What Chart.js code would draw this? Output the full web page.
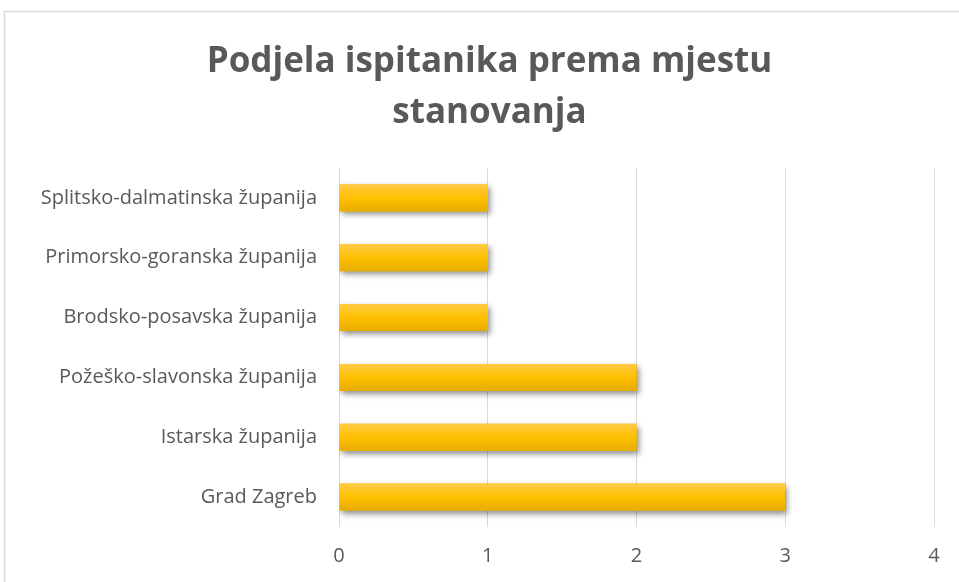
<!DOCTYPE html>
<html>
<head>
<meta charset="utf-8">
<script src="https://cdn.jsdelivr.net/npm/chart.js@4.4.0/dist/chart.umd.min.js"></script>
<style>
  html, body { margin: 0; padding: 0; background: #fff; }
  #wrap { width: 959px; height: 582px; }
</style>
</head>
<body>
<div id="wrap"><canvas id="barchart" width="959" height="582"></canvas></div>
<script>
// Data (top to bottom)
var labels = [
    'Splitsko-dalmatinska županija',
    'Primorsko-goranska županija',
    'Brodsko-posavska županija',
    'Požeško-slavonska županija',
    'Istarska županija',
    'Grad Zagreb'
];
var counts = [1, 1, 1, 2, 2, 3];
var titleLines = ['Podjela ispitanika prema mjestu', 'stanovanja'];
var xMin = 0, xMax = 4, xStep = 1;

var FONT = '"Open Sans", "Noto Sans", sans-serif';
var GREY = '#595959';

// outer frame like the Excel chart border
var framePlugin = {
    id: 'frame',
    beforeDraw: function(chart) {
        var c = chart.ctx;
        c.save();
        c.fillStyle = '#fff';
        c.fillRect(0, 0, chart.width, chart.height);
        c.strokeStyle = '#d9d9d9';
        c.lineWidth = 1.5;
        c.strokeRect(4.5, 11.5, chart.width + 10, chart.height + 10);
        c.restore();
    }
};

// title centred a bit right of the canvas middle, like in Excel
var titlePlugin = {
    id: 'excelTitle',
    afterDraw: function(chart) {
        var c = chart.ctx;
        c.save();
        c.font = 'bold 35px ' + FONT;
        c.fillStyle = GREY;
        c.textAlign = 'center';
        c.textBaseline = 'middle';
        var cx = (20 + chart.width) / 2;
        titleLines.forEach(function(line, i) {
            c.fillText(line, cx, 62 + i * 51);
        });
        c.restore();
    }
};

// drop shadow under bars
var shadowPlugin = {
    id: 'barShadow',
    beforeDatasetsDraw: function(chart) {
        var c = chart.ctx;
        c.save();
        c.shadowColor = 'rgba(0,0,0,0.45)';
        c.shadowBlur = 6;
        c.shadowOffsetX = 2;
        c.shadowOffsetY = 3;
    },
    afterDatasetsDraw: function(chart) {
        var c = chart.ctx;
        c.restore();
        // light-to-dark shading over each bar
        var meta = chart.getDatasetMeta(0);
        meta.data.forEach(function(bar) {
            var top = bar.y - bar.height / 2;
            var g = c.createLinearGradient(0, top, 0, top + bar.height);
            g.addColorStop(0, '#FFCB45');
            g.addColorStop(0.5, '#FFC000');
            g.addColorStop(1, '#E6AC00');
            c.save();
            c.fillStyle = g;
            c.fillRect(Math.min(bar.base, bar.x), top, Math.abs(bar.x - bar.base), bar.height);
            c.restore();
        });
    }
};

var ctx = document.getElementById('barchart').getContext('2d');
new Chart(ctx, {
    type: 'bar',
    data: {
        labels: labels,
        datasets: [{
            data: counts,
            backgroundColor: '#FFC000',
            borderWidth: 0,
            barPercentage: 0.9,
            categoryPercentage: 0.5
        }]
    },
    options: {
        indexAxis: 'y',
        responsive: false,
        animation: false,
        layout: { padding: { left: 20, right: 25, top: 168, bottom: 0 } },
        plugins: {
            legend: { display: false },
            tooltip: { enabled: false },
            title: { display: false }
        },
        scales: {
            x: {
                min: xMin,
                max: xMax,
                ticks: {
                    stepSize: xStep,
                    color: GREY,
                    padding: 17,
                    font: { family: FONT, size: 20 }
                },
                grid: { color: '#d9d9d9', lineWidth: 1, drawTicks: false },
                border: { display: false },
                afterFit: function(scale) { scale.height = 55; }
            },
            y: {
                ticks: {
                    color: GREY,
                    padding: 22,
                    font: { family: FONT, size: 20 }
                },
                grid: { display: false, drawTicks: false },
                border: { display: false },
                afterFit: function(scale) { scale.width = 319; }
            }
        }
    },
    plugins: [framePlugin, titlePlugin, shadowPlugin]
});
</script>
</body>
</html>
